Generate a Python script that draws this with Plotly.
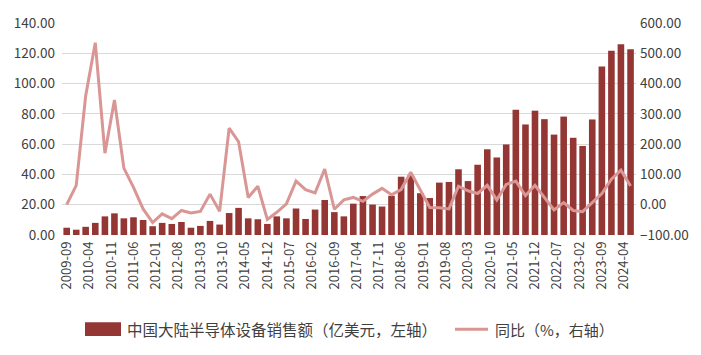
import plotly.graph_objects as go
import pandas as pd

# Quarterly dates 2009-09 ... 2024-06
dates = pd.date_range("2009-09-01", "2024-06-01", freq="3MS").strftime("%Y-%m-%d").tolist()

sales = [4.8, 3.5, 5.4, 8.0, 12.3, 14.3, 11.0, 11.7, 9.9, 5.8,
         8.0, 7.3, 8.6, 4.8, 6.0, 9.3, 6.9, 14.5, 17.9, 11.0,
         10.4, 7.3, 12.3, 11.0, 17.5, 10.6, 16.8, 23.1, 15.1, 12.3,
         20.7, 25.7, 20.1, 18.8, 25.9, 38.5, 39.5, 27.6, 24.4, 34.6,
         35.0, 43.4, 35.6, 46.4, 56.6, 51.2, 59.8, 82.7, 73.0, 82.1,
         76.5, 66.3, 78.2, 64.2, 58.8, 76.3, 111.3, 121.6, 126.0, 122.7]

yoy = [0, 64, 359, 535, 170, 346, 121, 57, -14, -59,
       -30, -46, -19, -27, -22, 35, -22, 253, 208, 24,
       61, -49, -25, 3, 78, 50, 39, 118, -15, 16,
       24, 11, 35, 54, 33, 50, 107, 49, -9, -10,
       -14, 61, 46, 37, 64, 16, 67, 78, 30, 64,
       24, -17, 7, -19, -23, 8, 37, 84, 114, 62]

bar_name = "中国大陆半导体设备销售额（亿美元，左轴）"
line_name = "同比（%，右轴）"

BAR_COLOR = "#943634"
LINE_COLOR = "#D99694"
FONT = "Noto Sans CJK SC"
TEXT = "#404040"

fig = go.Figure()
fig.add_trace(go.Bar(x=dates, y=sales, name=bar_name, marker_color=BAR_COLOR,
                     marker_line_width=0, yaxis="y"))
fig.add_trace(go.Scatter(x=dates, y=yoy, name=line_name, mode="lines",
                         line=dict(color=LINE_COLOR, width=3), yaxis="y2"))

L, R, T, B = 62, 636, 19, 235
W, H = 701, 355
pw, ph = R - L, B - T

def px(x):
    return (x - L) / pw

def py(y):
    return (B - y) / ph

shapes = [
    dict(type="rect", xref="paper", yref="paper", x0=px(85), x1=px(121), y0=py(338), y1=py(324),
         fillcolor=BAR_COLOR, line=dict(width=0)),
    dict(type="line", xref="paper", yref="paper", x0=px(455), x1=px(488), y0=py(331), y1=py(331),
         line=dict(color=LINE_COLOR, width=3)),
]
annotations = [
    dict(xref="paper", yref="paper", x=px(125), y=py(331), text=bar_name, showarrow=False,
         xanchor="left", yanchor="middle", font=dict(size=15.5, color=TEXT, family=FONT)),
    dict(xref="paper", yref="paper", x=px(493), y=py(331), text=line_name, showarrow=False,
         xanchor="left", yanchor="middle", font=dict(size=15, color=TEXT, family=FONT)),
]

fig.update_layout(
    width=W, height=H,
    margin=dict(l=L, r=W - R, t=T, b=H - B),
    paper_bgcolor="white", plot_bgcolor="white",
    font=dict(family=FONT, size=13, color=TEXT),
    showlegend=False,
    bargap=0.3,
    xaxis=dict(type="date", range=["2009-07-18", "2024-07-23"],
               tick0="2009-09-01", dtick="M7", tickformat="%Y-%m",
               tickangle=-90, showgrid=False, ticks="", showline=False,
               ticklabelstandoff=3,
               tickfont=dict(size=13, color=TEXT, family=FONT)),
    yaxis=dict(range=[0, 140], dtick=20, tickformat=".2f", showgrid=True,
               gridcolor="#D9D9D9", gridwidth=1, zeroline=False, ticks="",
               ticklabelstandoff=6,
               tickfont=dict(size=13.5, color=TEXT, family=FONT)),
    yaxis2=dict(range=[-100, 600], dtick=100, tickformat=".2f", overlaying="y",
                side="right", showgrid=False, zeroline=False, ticks="",
                ticklabelstandoff=3,
                tickfont=dict(size=13.5, color=TEXT, family=FONT)),
    shapes=shapes, annotations=annotations,
)

fig.write_html("out.html", config={"displayModeBar": False},
               post_script="document.body.style.margin='0';")
